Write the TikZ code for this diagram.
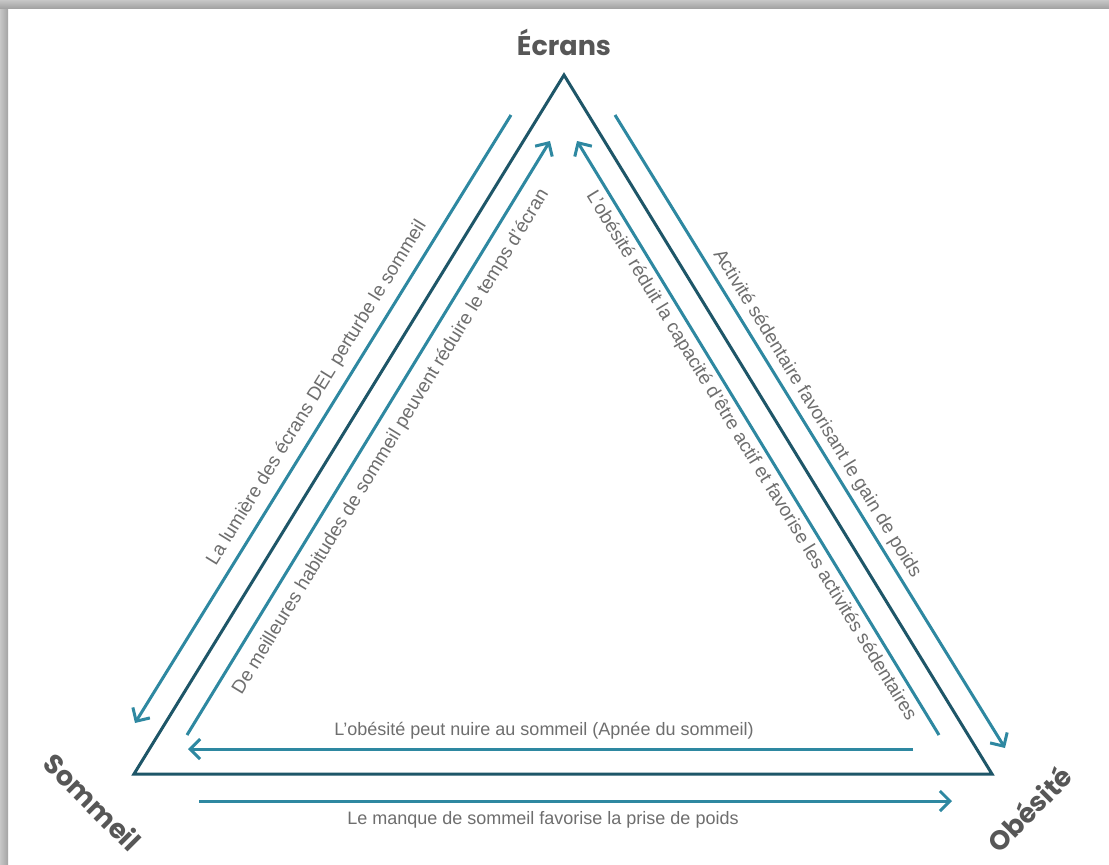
\documentclass[tikz,border=0pt]{standalone}
\usepackage{fontspec}
\setmainfont{Liberation Sans}
\newfontfamily\titlefont{Poppins}
\usetikzlibrary{arrows.meta}
\definecolor{tri}{HTML}{1E5668}
\definecolor{arr}{HTML}{2E88A1}
\definecolor{lbl}{HTML}{6E6E6E}
\definecolor{ttl}{HTML}{575757}
\tikzset{
  triline/.style={draw=tri, line width=3pt, line join=miter},
  arrline/.style={draw=arr, line width=3pt, -{Straight Barb[length=10pt,width=20pt]}},
  lab/.style={text=lbl, font=\fontsize{18}{20}\selectfont, inner sep=0pt},
  dlab/.style={lab, font=\fontsize{19}{21}\selectfont},
  ttlbox/.style={text=ttl, font=\titlefont\bfseries\fontsize{27}{29}\selectfont, inner sep=0pt}
}
\begin{document}
\begin{tikzpicture}[x=1pt,y=-1pt]
\useasboundingbox (0,0) rectangle (1109,865);
\fill[white] (0,0) rectangle (1109,865);
% frame shadow
\shade[left color=black!22, right color=black!36] (0,0) rectangle (8,865);
\shade[top color=black!22, bottom color=black!36] (0,0) rectangle (1109,8);
% triangle corners
\coordinate (E) at (564,75);
\coordinate (S) at (134,774);
\coordinate (O) at (992,774);
\draw[triline] (E) -- (S) -- (O) -- cycle;
% arrow end points
\coordinate (l1a) at (511,115); \coordinate (l1b) at (135,723);
\coordinate (l2a) at (187,735); \coordinate (l2b) at (550,141);
\coordinate (r2a) at (939,735); \coordinate (r2b) at (577,141);
\coordinate (r1a) at (615,115); \coordinate (r1b) at (1005,748);
\coordinate (b1a) at (913,749); \coordinate (b1b) at (188,749);
\coordinate (b2a) at (199,801); \coordinate (b2b) at (952,801);
\draw[arrline] (l1a) -- (l1b);
\draw[arrline] (l2a) -- (l2b);
\draw[arrline] (r2a) -- (r2b);
\draw[arrline] (r1a) -- (r1b);
\draw[arrline] (b1a) -- (b1b);
\draw[arrline] (b2a) -- (b2b);
% titles
\node[ttlbox] (tE) at (564,42) {Écrans};
\node[ttlbox, rotate=-45] (tS) at (93,802) {Sommeil};
\node[ttlbox, rotate=45] (tO) at (1029,809) {Obésité};
% labels
\node[dlab, rotate=58.3] (t1) at (317,393) {La lumière des écrans DEL perturbe le sommeil};
\node[dlab, rotate=58.5] (t2) at (391,442) {De meilleures habitudes de sommeil peuvent réduire le temps d’écran};
\node[dlab, rotate=-58.6] (t3) at (751,456) {L’obésité réduit la capacité d’être actif et favorise les activités sédentaires};
\node[dlab, rotate=-58.5] (t4) at (817,414) {Activité sédentaire favorisant le gain de poids};
\node[lab] (t5) at (544,731) {L’obésité peut nuire au sommeil (Apnée du sommeil)};
\node[lab] (t6) at (543,820) {Le manque de sommeil favorise la prise de poids};
\end{tikzpicture}
\end{document}
